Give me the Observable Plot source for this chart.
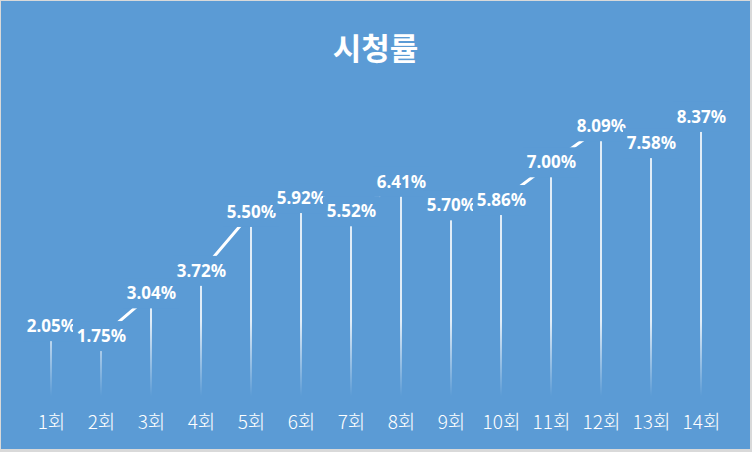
<!DOCTYPE html>
<html>
<head>
<meta charset="utf-8">
<script src="https://cdn.jsdelivr.net/npm/d3@7"></script>
<script src="https://cdn.jsdelivr.net/npm/@observablehq/plot@0.6"></script>
<style>
  html, body { margin: 0; padding: 0; background: #D9D9D9; }
  #wrap { position: relative; width: 752px; height: 452px; background: #D9D9D9; overflow: hidden; }
  #chart { position: absolute; left: 1px; top: 1px; width: 749px; height: 448px; background: #5B9BD5; }
  #title { position: absolute; left: 0; top: 45px; width: 100%; text-align: center; transform: translateY(-50%);
           font-family: "Noto Sans CJK KR", sans-serif; font-weight: 700; font-size: 31px; line-height: 1; color: #fff; z-index: 2; }
  #chart svg { position: absolute; left: 0; top: 0; }
</style>
</head>
<body>
<div id="wrap"><div id="chart"><div id="title">시청률</div></div></div>
<script>
const episodes = ["1회","2회","3회","4회","5회","6회","7회","8회","9회","10회","11회","12회","13회","14회"];
const ratings = [2.05, 1.75, 3.04, 3.72, 5.50, 5.92, 5.52, 6.41, 5.70, 5.86, 7.00, 8.09, 7.58, 8.37];

const data = episodes.map((e, i) => ({episode: e, rating: ratings[i]}));
const bg = "#5B9BD5";

const W = 749, H = 448;
const bw = (727 - 23) / episodes.length;

// Each data label = an opaque box (label background) followed by its text, drawn in sequence
const labelMarks = data.flatMap(d => [
  Plot.barY([d], {x: "episode", y1: "rating", y2: "rating", fill: bg,
    insetTop: -29, insetBottom: -1, insetLeft: -3, insetRight: -3}),
  Plot.text([d], {x: "episode", y: "rating", dy: -14, text: v => v.rating.toFixed(2) + "%",
    fill: "#fff", fontFamily: "Noto Sans, sans-serif", fontWeight: "bold", fontSize: 17})
]);

const plot = Plot.plot({
  width: W,
  height: H,
  marginLeft: 23,
  marginRight: 22,
  marginTop: 76,
  marginBottom: 41,
  style: {background: bg, color: "#fff"},
  x: {domain: episodes, padding: 0, label: null},
  y: {domain: [0, 10], axis: null},
  marks: [
    Plot.barY(data, {x: "episode", y: "rating", fill: "url(#dropGrad)", insetLeft: bw / 2 - 1, insetRight: bw / 2 - 1}),
    Plot.line(data, {x: "episode", y: "rating", dy: -14, stroke: "#fff", strokeWidth: 3}),
    ...labelMarks,
    Plot.axisX({tickSize: 0, tickPadding: 7, fontSize: 19, fill: "#fff",
      fontFamily: "Noto Sans CJK KR, sans-serif", fontWeight: 300, label: null})
  ]
});

d3.select(plot).insert("defs", ":first-child").html(
  `<linearGradient id="dropGrad" gradientUnits="userSpaceOnUse" x1="0" y1="320" x2="0" y2="395">
     <stop offset="0" stop-color="#fff" stop-opacity="0.95"/>
     <stop offset="1" stop-color="#fff" stop-opacity="0"/>
   </linearGradient>`
);

document.getElementById("chart").appendChild(plot);
</script>
</body>
</html>
